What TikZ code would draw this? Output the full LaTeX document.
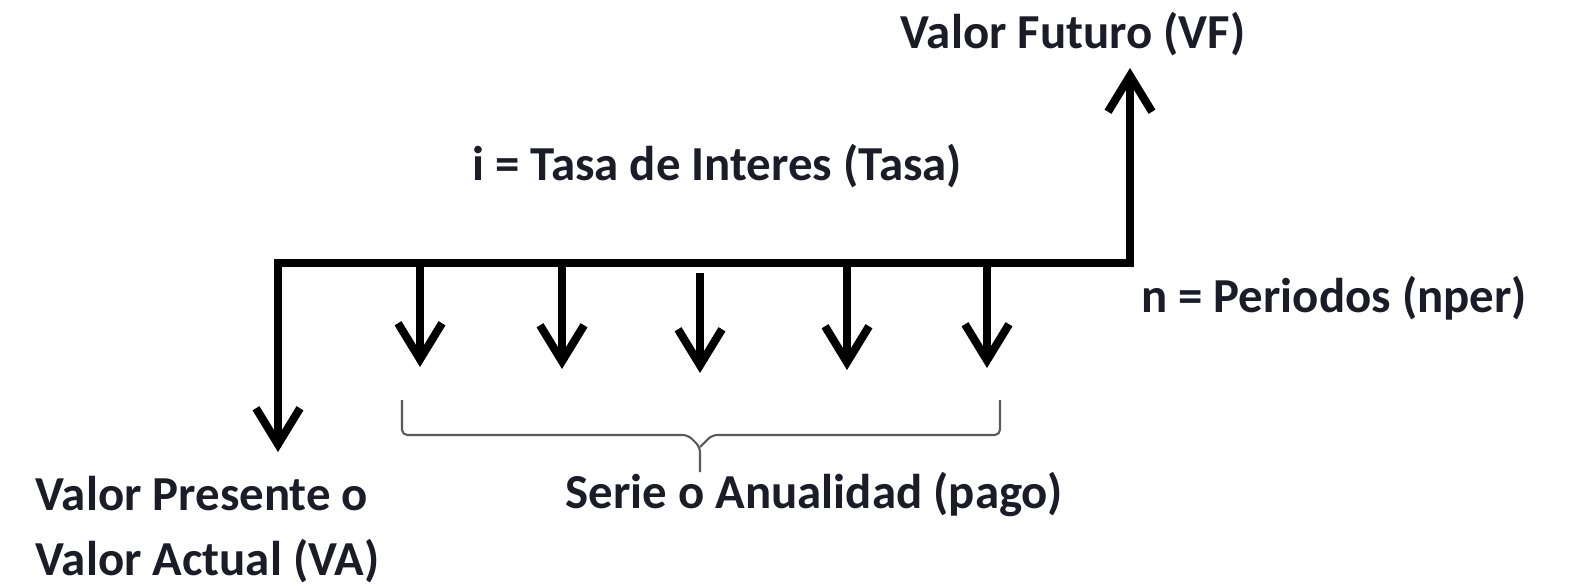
\documentclass[tikz,border=0pt]{standalone}
\usepackage{fontspec}
\setmainfont{Carlito}
\usetikzlibrary{arrows.meta}
\definecolor{texto}{RGB}{28,28,40}
\definecolor{llave}{RGB}{90,90,90}
\tikzset{
  punta/.tip={Straight Barb[length=3.6mm,width=4.4mm]},
  flujo/.style={line width=2.3pt,-punta},
  eje/.style={line width=2.3pt,punta-punta,line join=miter},
  etiqueta/.style={font=\fontsize{13.9}{18.4}\selectfont\bfseries,text=texto,inner sep=0pt},
  llaves/.style={line width=0.6pt,draw=llave,line join=round}
}
\begin{document}
\begin{tikzpicture}
  \useasboundingbox (0,0) rectangle (15.71,5.85);
  % linea de tiempo
  \coordinate (inicio) at (2.78,3.22);
  \coordinate (fin) at (11.30,3.22);
  \coordinate (vfpunta) at (11.30,5.17);
  \coordinate (vapunta) at (2.78,1.33);

  \node[etiqueta,anchor=base] (vf) at (10.73,5.37) {Valor Futuro (VF)};
  \node[etiqueta,anchor=base] (tasa) at (7.17,4.05) {i = Tasa de Interes (Tasa)};
  \node[etiqueta,anchor=base] (nper) at (13.34,2.73) {n = Periodos (nper)};
  \node[etiqueta,anchor=base] (serie) at (8.14,0.77) {Serie o Anualidad (pago)};
  \node[etiqueta,anchor=base west,align=left] (va) at (0.35,0.10) {Valor Presente o\\Valor Actual (VA)};

  \draw[eje] (vapunta) -- (inicio) -- (fin) -- (vfpunta);

  % pagos
  \coordinate (p1) at (4.20,3.22);
  \coordinate (p2) at (5.62,3.22);
  \coordinate (p3) at (7.00,3.12);
  \coordinate (p4) at (8.47,3.22);
  \coordinate (p5) at (9.87,3.22);
  \draw[flujo] (p1) -- (4.20,2.18);
  \draw[flujo] (p2) -- (5.62,2.16);
  \draw[flujo] (p3) -- (7.00,2.12);
  \draw[flujo] (p4) -- (8.47,2.15);
  \draw[flujo] (p5) -- (9.87,2.17);

  % llave de la serie
  \coordinate (ll1) at (4.02,1.85);
  \coordinate (ll2) at (10.00,1.85);
  \coordinate (llpunta) at (7.00,1.13);
  \draw[llaves,rounded corners=1.5pt] (ll1) -- (4.02,1.50) -- (6.88,1.50) -- (7.00,1.38) -- (llpunta);
  \draw[llaves,rounded corners=1.5pt] (ll2) -- (10.00,1.50) -- (7.12,1.50) -- (7.00,1.38);
\end{tikzpicture}
\end{document}
